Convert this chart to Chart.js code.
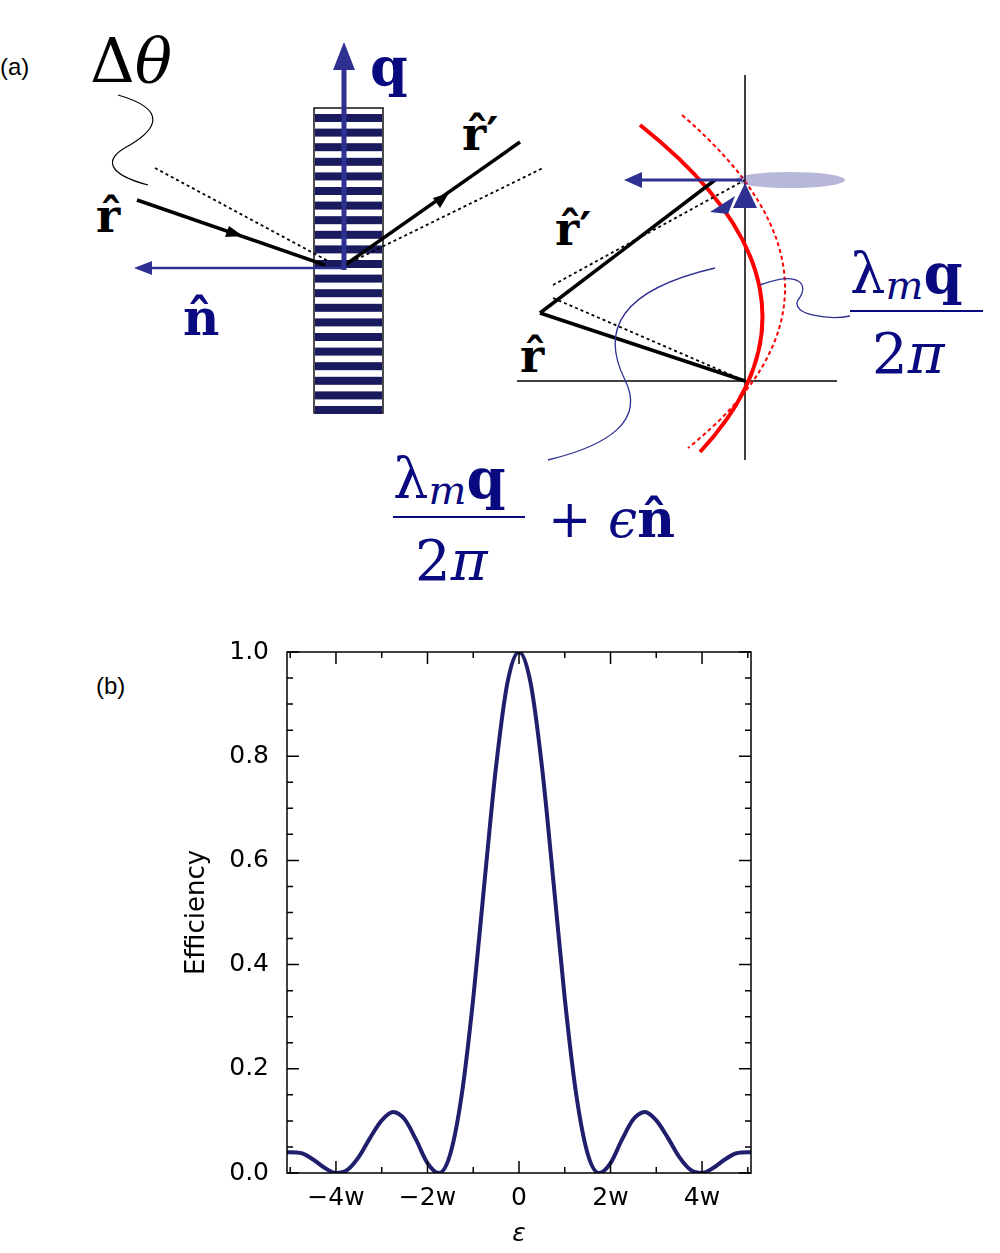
<!DOCTYPE html>
<html><head><meta charset="utf-8">
<script src="https://cdn.jsdelivr.net/npm/chart.js@4/dist/chart.umd.min.js"></script>
<style>
body{margin:0;width:1000px;height:1253px;position:relative;background:#fff;font-family:"DejaVu Sans",sans-serif;overflow:hidden}
#wrap{position:absolute;left:0;top:600px;width:1000px;height:653px}
svg{position:absolute;left:0;top:0}
.t{position:absolute;white-space:nowrap}
</style></head><body>
<svg width="1000" height="600" viewBox="0 0 1000 600">
<text x="0" y="75" font-size="24" font-family="Liberation Sans">(a)</text>
<text x="90" y="82" font-size="62" font-family="DejaVu Serif"><tspan>Δ</tspan><tspan font-style="italic">θ</tspan></text>
<path d="M118,95 C170,110 155,130 130,145 C100,160 110,175 148,185" fill="none" stroke="#000" stroke-width="1.2"/>
<rect x="314" y="108" width="69" height="305" fill="#fff" stroke="#111" stroke-width="1.5"/>
<g id="str"></g>
<line x1="155" y1="168" x2="330" y2="262" stroke="#000" stroke-width="1.8" stroke-dasharray="3,3"/>
<line x1="345" y1="265" x2="543" y2="168" stroke="#000" stroke-width="1.8" stroke-dasharray="3,3"/>
<line x1="137" y1="200" x2="325" y2="265" stroke="#000" stroke-width="3.5"/>
<path d="M243,236 L225,237 L229,226z" fill="#000"/>
<line x1="345" y1="265" x2="520" y2="142" stroke="#000" stroke-width="3.5"/>
<path d="M449,193 L433,198 L440,208z" fill="#000"/>
<line x1="345" y1="268" x2="148" y2="268" stroke="#2e3192" stroke-width="2.5"/>
<path d="M134,268 L152,261 L152,275z" fill="#2e3192"/>
<line x1="344" y1="270" x2="344" y2="68" stroke="#2e3192" stroke-width="5"/>
<path d="M344,42 L333,70 L355,70z" fill="#2e3192"/>
<text x="96" y="232" font-size="46" font-weight="bold" font-family="DejaVu Serif">r̂</text>
<text x="462" y="150" font-size="46" font-weight="bold" font-family="DejaVu Serif">r̂′</text>
<text x="183" y="335" font-size="50" font-weight="bold" font-family="DejaVu Serif" fill="#0a0a80">n̂</text>
<text x="370" y="86" font-size="54" font-weight="bold" font-family="DejaVu Serif" fill="#0a0a80">q</text>
<line x1="745" y1="75" x2="745" y2="460" stroke="#000" stroke-width="1.5"/>
<line x1="517" y1="381" x2="837" y2="381" stroke="#000" stroke-width="1.5"/>
<path d="M640,125 Q850,291 700,452" fill="none" stroke="#f00" stroke-width="4"/>
<path d="M682,115 Q885,290 688,448" fill="none" stroke="#f00" stroke-width="2" stroke-dasharray="4,3"/>
<line x1="553" y1="285" x2="745" y2="180" stroke="#000" stroke-width="1.8" stroke-dasharray="3,3"/>
<line x1="553" y1="298" x2="745" y2="381" stroke="#000" stroke-width="1.8" stroke-dasharray="3,3"/>
<line x1="540" y1="313" x2="745" y2="381" stroke="#000" stroke-width="3.5"/>
<line x1="540" y1="313" x2="715" y2="180" stroke="#000" stroke-width="3.5"/>
<ellipse cx="790" cy="180" rx="55" ry="8" fill="#2e3192" opacity="0.35"/>
<line x1="742" y1="180" x2="640" y2="180" stroke="#2e3192" stroke-width="3"/>
<path d="M624,180 L642,172 L642,188z" fill="#2e3192"/>
<path d="M745,183 L733,208 L757,208z" fill="#2e3192"/>
<path d="M710,212 L735,196 L728,214z" fill="#2e3192"/>
<text x="555" y="245" font-size="46" font-weight="bold" font-family="DejaVu Serif">r̂′</text>
<text x="520" y="372" font-size="46" font-weight="bold" font-family="DejaVu Serif">r̂</text>
<path d="M715,268 C620,290 600,330 625,380 C645,420 610,445 548,460" fill="none" stroke="#2e3192" stroke-width="1.3"/>
<path d="M760,285 C800,270 810,285 798,300 C790,315 830,320 850,316" fill="none" stroke="#2e3192" stroke-width="1.3"/>
<g fill="#0a0a80" font-family="DejaVu Serif">
<text x="850" y="293" font-size="56"><tspan>λ</tspan><tspan font-style="italic" font-size="40" dy="6">m</tspan><tspan font-weight="bold" dy="-6">q</tspan></text>
<line x1="850" y1="311" x2="983" y2="311" stroke="#0a0a80" stroke-width="2"/>
<text x="872" y="373" font-size="56">2<tspan font-style="italic">π</tspan></text>
<text x="393" y="498" font-size="56"><tspan>λ</tspan><tspan font-style="italic" font-size="40" dy="6">m</tspan><tspan font-weight="bold" dy="-6">q</tspan></text>
<line x1="393" y1="517" x2="525" y2="517" stroke="#0a0a80" stroke-width="2"/>
<text x="415" y="580" font-size="56">2<tspan font-style="italic">π</tspan></text>
<text x="548" y="537" font-size="52">+ <tspan font-style="italic">ϵ</tspan><tspan font-weight="bold">n̂</tspan></text>
</g>
</svg>
<div class="t" style="left:96px;top:672px;font-size:24px;font-family:'Liberation Sans'">(b)</div>
<div id="wrap"><canvas id="c" width="1000" height="653"></canvas></div>
<script>
const g=document.getElementById('str');
for(let y=114;y<410;y+=14.6){const r=document.createElementNS('http://www.w3.org/2000/svg','rect');r.setAttribute('x',315);r.setAttribute('y',y);r.setAttribute('width',67);r.setAttribute('height',8);r.setAttribute('fill','#1a1a5e');g.appendChild(r);}

const epsilon=[-5.07,-5,-4.75,-4.5,-4.25,-4,-3.75,-3.5,-3.25,-3,-2.75,-2.5,-2.25,-2,-1.75,-1.5,-1.25,-1,-0.75,-0.5,-0.25,0,0.25,0.5,0.75,1,1.25,1.5,1.75,2,2.25,2.5,2.75,3,3.25,3.5,3.75,4,4.25,4.5,4.75,5,5.07];
const efficiency=[0.040,0.040,0.038,0.026,0.010,0.000,0.006,0.031,0.068,0.101,0.117,0.103,0.064,0.019,0.000,0.037,0.151,0.335,0.562,0.781,0.942,1.000,0.942,0.781,0.562,0.335,0.151,0.037,0.000,0.019,0.064,0.103,0.117,0.101,0.068,0.031,0.006,0.000,0.010,0.026,0.038,0.040,0.040];
const xTicks=[-4,-2,0,2,4];
const xTickLabels=['\u22124w','\u22122w','0','2w','4w'];
const yTicks=[0,0.2,0.4,0.6,0.8,1.0];

const inner={id:'inner',afterDraw(ch){const c=ch.ctx,a=ch.chartArea,x=ch.scales.x,y=ch.scales.y;c.save();c.strokeStyle='#000';c.lineWidth=1.5;c.beginPath();
for(let v=-5;v<=5;v++){const p=x.getPixelForValue(v);const L=v%2===0?12:6;c.moveTo(p,a.bottom);c.lineTo(p,a.bottom-L);c.moveTo(p,a.top);c.lineTo(p,a.top+L);}
for(let i=0;i<=20;i++){const v=i*0.05,p=y.getPixelForValue(v);const L=i%4===0?12:6;c.moveTo(a.left,p);c.lineTo(a.left+L,p);c.moveTo(a.right,p);c.lineTo(a.right-L,p);}
c.stroke();c.strokeRect(a.left,a.top,a.right-a.left,a.bottom-a.top);c.restore();}};

new Chart(document.getElementById('c'),{type:'scatter',
data:{datasets:[{data:epsilon.map((e,i)=>({x:e,y:efficiency[i]})),showLine:true,borderColor:'#1f1f6e',borderWidth:4,pointRadius:0,cubicInterpolationMode:'monotone'}]},
options:{responsive:false,animation:false,devicePixelRatio:1,
layout:{padding:{left:178,top:52,right:249,bottom:0}},
plugins:{legend:{display:false},tooltip:{enabled:false}},
scales:{
x:{type:'linear',min:-5.07,max:5.07,afterBuildTicks:s=>{s.ticks=xTicks.map(v=>({value:v}))},
 afterFit:s=>{s.height=80},
 ticks:{callback:(v)=>xTickLabels[xTicks.indexOf(v)],color:'#000',font:{size:25,family:'DejaVu Sans'},maxRotation:0,padding:2},
 grid:{display:false},border:{display:false},
 title:{display:true,text:'\u03b5',color:'#000',font:{size:25,family:'DejaVu Sans',style:'italic'},padding:{top:-10}}},
y:{min:0,max:1,afterBuildTicks:s=>{s.ticks=yTicks.map(v=>({value:v}))},
 afterFit:s=>{s.width=109},
 ticks:{callback:v=>v.toFixed(1),color:'#000',font:{size:25,family:'DejaVu Sans'},padding:10},
 grid:{display:false},border:{display:false},
 title:{display:true,text:'Efficiency',color:'#000',font:{size:26,family:'DejaVu Sans'},padding:{bottom:6}}}}},
plugins:[inner]});
</script>
</body></html>
